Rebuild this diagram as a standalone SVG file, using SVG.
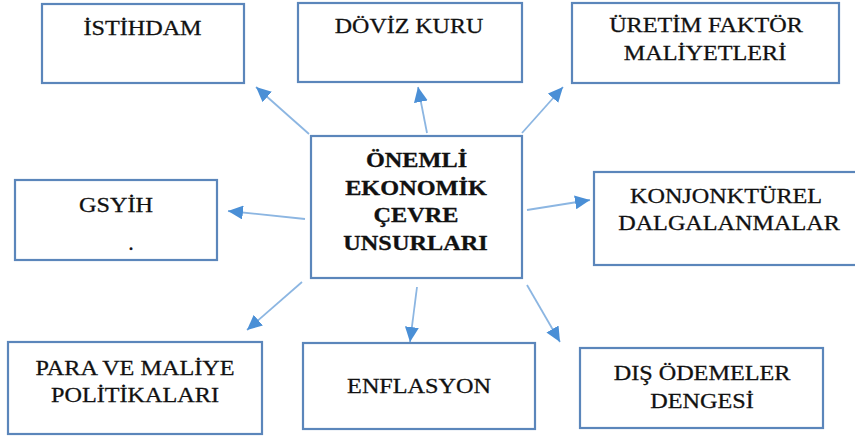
<svg xmlns="http://www.w3.org/2000/svg" width="855" height="437" viewBox="0 0 855 437">
<style>
.box{fill:#fff;stroke:#5b86bb;stroke-width:2.2}
.t{font-family:"Liberation Serif","Times New Roman",serif;font-size:22px;fill:#111;stroke:#111;stroke-width:0.3;text-anchor:middle}
.b{font-weight:bold;font-size:21.5px}
.c line{stroke:#8cb6e2;stroke-width:1.8}
</style>
<defs>
<marker id="ah" markerUnits="userSpaceOnUse" markerWidth="16" markerHeight="14" refX="15" refY="7" orient="auto">
<path d="M0,0 L15,7 L0,14 Z" fill="#4a8fd6"/>
</marker>
</defs>
<rect width="855" height="437" fill="#fff"/>
<g class="c">
<line x1="309" y1="134" x2="256" y2="87" marker-end="url(#ah)"/>
<line x1="427" y1="133" x2="418" y2="87" marker-end="url(#ah)"/>
<line x1="522" y1="133" x2="563" y2="87" marker-end="url(#ah)"/>
<line x1="305" y1="219" x2="228" y2="211" marker-end="url(#ah)"/>
<line x1="527" y1="210" x2="590" y2="200" marker-end="url(#ah)"/>
<line x1="302" y1="282" x2="247" y2="330" marker-end="url(#ah)"/>
<line x1="417" y1="287" x2="410" y2="342" marker-end="url(#ah)"/>
<line x1="527" y1="285" x2="560" y2="342" marker-end="url(#ah)"/>
</g>
<g id="istihdam">
<rect class="box" x="42" y="4" width="202" height="79"/>
<text class="t" transform="translate(142.5 35) scale(1.1 1)">İSTİHDAM</text>
</g>
<g id="doviz">
<rect class="box" x="298" y="3" width="224" height="79"/>
<text class="t" transform="translate(409 33) scale(1.09 1)">DÖVİZ KURU</text>
</g>
<g id="uretim">
<rect class="box" x="572" y="3" width="267" height="80"/>
<text class="t" transform="translate(706 32) scale(1.1 1)">ÜRETİM FAKTÖR</text>
<text class="t" transform="translate(705 60) scale(1.1 1)">MALİYETLERİ</text>
</g>
<g id="gsyih">
<rect class="box" x="15" y="180" width="202" height="80"/>
<text class="t" transform="translate(116 212) scale(1.1 1)">GSYİH</text>
<text class="t" x="131" y="250">.</text>
</g>
<g id="center">
<rect class="box" x="311" y="136" width="211" height="142"/>
<text class="t b" transform="translate(416.5 167) scale(1.13 1)">ÖNEMLİ</text>
<text class="t b" transform="translate(416 195) scale(1.13 1)">EKONOMİK</text>
<text class="t b" transform="translate(416 222) scale(1.13 1)">ÇEVRE</text>
<text class="t b" transform="translate(415.5 250) scale(1.13 1)">UNSURLARI</text>
</g>
<g id="konjonkturel">
<rect class="box" x="594" y="172" width="270" height="93"/>
<text class="t" transform="translate(726 203) scale(1.1 1)">KONJONKTÜREL</text>
<text class="t" transform="translate(729 230) scale(1.1 1)">DALGALANMALAR</text>
</g>
<g id="para">
<rect class="box" x="8" y="342" width="254" height="92"/>
<text class="t" transform="translate(135 375) scale(1.1 1)">PARA VE MALİYE</text>
<text class="t" transform="translate(135 402) scale(1.1 1)">POLİTİKALARI</text>
</g>
<g id="enflasyon">
<rect class="box" x="303" y="343" width="232" height="86"/>
<text class="t" transform="translate(419 393) scale(1.1 1)">ENFLASYON</text>
</g>
<g id="dis">
<rect class="box" x="580" y="348" width="243" height="80"/>
<text class="t" transform="translate(702 380) scale(1.1 1)">DIŞ ÖDEMELER</text>
<text class="t" transform="translate(702 408) scale(1.1 1)">DENGESİ</text>
</g>
</svg>
